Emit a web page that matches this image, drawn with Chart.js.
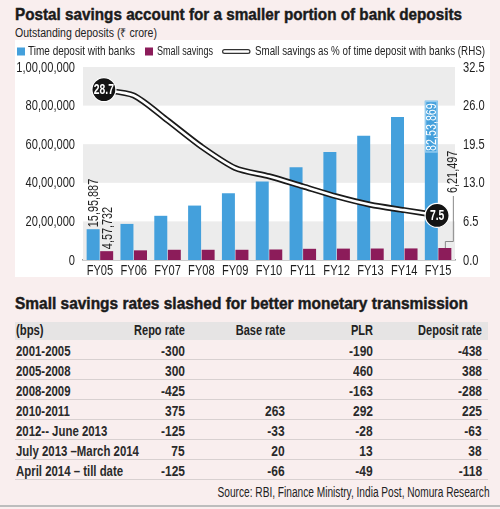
<!DOCTYPE html>
<html>
<head>
<meta charset="utf-8">
<script src="https://cdn.jsdelivr.net/npm/chart.js@4.4.1/dist/chart.umd.min.js"></script>
<style>
  html, body { margin: 0; padding: 0; }
  body { width: 500px; height: 509px; background: #f9eeee; position: relative; overflow: hidden;
         font-family: 'Liberation Sans', Arial, sans-serif; color: #222; }
  .t { position: absolute; white-space: nowrap; line-height: 1; display: inline-block; }
  .L { transform-origin: left center; }
  .R { transform-origin: right center; }
  .title { font-weight: bold; font-size: 17px; color: #1b1b1b; -webkit-text-stroke: 0.45px #1b1b1b; }
  #box { position: absolute; left: 15px; top: 40px; width: 475px; height: 237px; background: #fff; }
  #hdr { position: absolute; left: 15px; top: 322px; width: 473px; height: 18px; background: #e6e4e4; }
  .sep { position: absolute; left: 15px; width: 473px; height: 1px; background: #d8d0d0; }
  .th { font-weight: bold; color: #222; }
  .td { font-weight: bold; color: #2a2a2a; }
  #bot { position: absolute; left: 0; right: 0; top: 505px; height: 2px; background: #bdbdbd; }
</style>
</head>
<body>
<div id="box"><canvas id="myChart" width="475" height="237"></canvas></div>
<div id="hdr"></div>
<div id="bot"></div>
<script>
// chart data
var years = ['FY05', 'FY06', 'FY07', 'FY08', 'FY09', 'FY10', 'FY11', 'FY12', 'FY13', 'FY14', 'FY15'];
var timeDeposits = [1595887, 1870000, 2290000, 2820000, 3460000, 4070000, 4810000, 5590000, 6440000, 7410000, 8253869];
var smallSavings = [457732, 500000, 530000, 530000, 530000, 545000, 580000, 590000, 595000, 600000, 621497];
var sharePct = [28.7, 27.7, 23.5, 19.1, 15.5, 14.1, 12.4, 10.7, 9.3, 8.4, 7.5];
var leftMax = 10000000, leftStep = 2000000;
var rightMax = 32.5, rightStep = 6.5;

// table data
var tblHead = ['(bps)', 'Repo rate', 'Base rate', 'PLR', 'Deposit rate'];
var periods = ['2001-2005', '2005-2008', '2008-2009', '2010-2011', '2012-- June 2013', 'July 2013 \u2013March 2014', 'April 2014 \u2013 till date'];
var repoRate = ['-300', '300', '-425', '375', '-125', '75', '-125'];
var baseRate = ['', '', '', '263', '-33', '20', '-66'];
var plrRate = ['-190', '460', '-163', '292', '-28', '13', '-49'];
var depositRate = ['-438', '388', '-288', '225', '-63', '38', '-118'];

var FONT = "'Liberation Sans', Arial, sans-serif";
var BLUE = '#44a0dc', PURPLE = '#8c1c5a';
var SX = 0.74;   // squeeze to look like the narrow news font

function inr(v) {
  var s = Math.round(v).toString();
  if (s.length <= 3) return s;
  var rest = s.slice(0, -3).replace(/\B(?=(\d{2})+(?!\d))/g, ',');
  return rest + ',' + s.slice(-3);
}

// page texts: put by baseline, squeeze to a width (fit > 2) or by a factor
function addText(txt, cls, x, baseline, size, align, fit) {
  var el = document.createElement('div');
  el.className = 't ' + cls + ' ' + align;
  el.style.fontSize = size + 'px';
  el.textContent = txt;
  document.body.appendChild(el);
  el.style.top = (baseline - 0.8465 * size) + 'px';
  if (align === 'L') el.style.left = x + 'px';
  else el.style.right = (500 - x) + 'px';
  var w = el.getBoundingClientRect().width;
  var s = fit > 2 ? fit / w : fit;
  el.style.transform = 'scaleX(' + s + ')';
  return el;
}

addText('Postal savings account for a smaller portion of bank deposits', 'title', 15, 20.3, 17, 'L', 447);
addText('Outstanding deposits (\u20b9 crore)', '', 15, 37, 12, 'L', 142);
addText('Small savings rates slashed for better monetary transmission', 'title', 15, 309, 16.5, 'L', 453);
addText('Source: RBI, Finance Ministry, India Post, Nomura Research', '', 490, 497, 14, 'R', 272);

// table
var colRight = [0, 185, 285, 373, 482];
tblHead.forEach(function(h, i) {
  if (i === 0) addText(h, 'th', 16, 335, 14.5, 'L', 0.78);
  else addText(h, 'th', colRight[i], 335, 14.5, 'R', 0.76);
});
periods.forEach(function(p, r) {
  var base = 355.5 + 20 * r;
  addText(p, 'td', 16, base, 15, 'L', 0.76);
  [repoRate, baseRate, plrRate, depositRate].forEach(function(col, c) {
    if (col[r] !== '') addText(col[r], 'td', colRight[c + 1], base, 15, 'R', 0.8);
  });
  var sep = document.createElement('div');
  sep.className = 'sep';
  sep.style.top = (359 + 20 * r) + 'px';
  document.body.appendChild(sep);
});

function sText(ctx, txt, x, y, align, sx, rot) {
  ctx.save();
  ctx.translate(x, y);
  if (rot) ctx.rotate(rot);
  ctx.scale(sx, 1);
  ctx.textAlign = align;
  ctx.fillText(txt, 0, 0);
  ctx.restore();
}

var bands = {
  id: 'bands',
  beforeDatasetsDraw: function(chart) {
    var ctx = chart.ctx, y = chart.scales.y, a = chart.chartArea;
    ctx.save();
    ctx.fillStyle = '#ececec';
    for (var v = 0; v < leftMax; v += leftStep * 2) {
      var top = y.getPixelForValue(v + leftStep), bot = y.getPixelForValue(v);
      ctx.fillRect(a.left, top, a.right - a.left, bot - top);
    }
    ctx.restore();
  }
};

// tick labels drawn squeezed at the scale positions
var tickText = {
  id: 'tickText',
  afterDraw: function(chart) {
    var ctx = chart.ctx, a = chart.chartArea;
    var x = chart.scales.x, y = chart.scales.y, y2 = chart.scales.y2;
    ctx.save();
    ctx.fillStyle = '#1e1e1e';
    ctx.font = '15px ' + FONT;
    ctx.textBaseline = 'middle';
    y.ticks.forEach(function(t) {
      sText(ctx, inr(t.value), a.left - 8, y.getPixelForValue(t.value) + 0.5, 'right', SX);
    });
    y2.ticks.forEach(function(t) {
      sText(ctx, t.value.toFixed(1), a.right + 8, y2.getPixelForValue(t.value) + 0.5, 'left', SX);
    });
    ctx.textBaseline = 'alphabetic';
    years.forEach(function(lbl, i) {
      sText(ctx, lbl, x.getPixelForValue(i), a.bottom + 15, 'center', SX);
    });
    ctx.restore();
  }
};

var legendWidths = [107, 56, 230];
var legendPlug = {
  id: 'legendPlug',
  afterDraw: function(chart) {
    var ctx = chart.ctx, ds = chart.data.datasets;
    var base = 15;
    ctx.save();
    ctx.font = '12.5px ' + FONT;
    function label(i, x) {
      ctx.fillStyle = '#222';
      sText(ctx, ds[i].label, x, base, 'left', legendWidths[i] / ctx.measureText(ds[i].label).width);
      return x + legendWidths[i];
    }
    var x = 2;
    ctx.fillStyle = BLUE;
    ctx.fillRect(x, base - 7.5, 8, 8);
    x = label(0, x + 11) + 10;
    ctx.fillStyle = PURPLE;
    ctx.fillRect(x, base - 7.5, 8, 8);
    x = label(1, x + 12) + 9;
    // double line icon
    var yc = base - 3.5;
    ctx.lineCap = 'round';
    ctx.strokeStyle = '#333';
    ctx.lineWidth = 5;
    ctx.beginPath(); ctx.moveTo(x + 2.5, yc); ctx.lineTo(x + 26, yc); ctx.stroke();
    ctx.strokeStyle = '#fff';
    ctx.lineWidth = 2.4;
    ctx.beginPath(); ctx.moveTo(x + 2.5, yc); ctx.lineTo(x + 26, yc); ctx.stroke();
    label(2, x + 33);
    ctx.restore();
  }
};

var labelsPlug = {
  id: 'labelsPlug',
  afterDatasetsDraw: function(chart) {
    var ctx = chart.ctx;
    var blue = chart.getDatasetMeta(0).data, purple = chart.getDatasetMeta(1).data;
    var line = chart.getDatasetMeta(3).data;
    var n = years.length - 1;
    var up = -Math.PI / 2;
    ctx.save();
    ctx.font = '14.5px ' + FONT;
    ctx.textBaseline = 'middle';
    ctx.fillStyle = '#222';
    // first year labels above bars
    sText(ctx, inr(timeDeposits[0]), blue[0].x + 1, blue[0].y - 2, 'left', 0.75, up);
    sText(ctx, inr(smallSavings[0]), purple[0].x + 1, purple[0].y - 2, 'left', 0.75, up);
    // last blue bar label inside a framed box
    var b = blue[n];
    ctx.fillStyle = '#93cbef';
    ctx.fillRect(b.x - b.width / 2, b.y, b.width, 52);
    ctx.fillStyle = BLUE;
    ctx.fillRect(b.x - b.width / 2 + 1.5, b.y + 1.5, b.width - 3, 49);
    ctx.fillStyle = '#fff';
    sText(ctx, inr(timeDeposits[n]), b.x + 1, b.y + 2.5, 'right', 0.74, up);
    // last purple label with leader
    var p = purple[n];
    var lx = p.x + p.width / 2 + 1.5;
    ctx.fillStyle = '#222';
    sText(ctx, inr(smallSavings[n]), lx, p.y - 55, 'left', 0.75, up);
    ctx.strokeStyle = '#888';
    ctx.lineWidth = 1;
    ctx.beginPath();
    ctx.moveTo(lx + 0.5, p.y - 52);
    ctx.lineTo(lx + 0.5, p.y - 6.5);
    ctx.lineTo(p.x + 0.5, p.y - 6.5);
    ctx.lineTo(p.x + 0.5, p.y);
    ctx.stroke();
    // circled values at both ends of the line
    [[0, 4], [n, -1]].forEach(function(it) {
      var pt = line[it[0]], cx = pt.x + it[1];
      ctx.beginPath();
      ctx.arc(cx, pt.y, 12, 0, Math.PI * 2);
      ctx.fillStyle = '#141414';
      ctx.fill();
      ctx.strokeStyle = '#fff';
      ctx.lineWidth = 1.2;
      ctx.stroke();
      ctx.fillStyle = '#fff';
      ctx.font = 'bold 14px ' + FONT;
      sText(ctx, sharePct[it[0]].toFixed(1), cx, pt.y + 1, 'center', 0.74);
    });
    ctx.restore();
  }
};

var ctx = document.getElementById('myChart');
var myChart = new Chart(ctx, {
  data: {
    labels: years,
    datasets: [
      { type: 'bar', label: 'Time deposit with banks', data: timeDeposits, backgroundColor: BLUE, yAxisID: 'y', order: 3,
        categoryPercentage: 0.8, barPercentage: 0.96 },
      { type: 'bar', label: 'Small savings', data: smallSavings, backgroundColor: PURPLE, yAxisID: 'y', order: 3,
        categoryPercentage: 0.8, barPercentage: 0.96 },
      { type: 'line', label: 'Small savings as % of time deposit with banks (RHS)', data: sharePct, yAxisID: 'y2', order: 2,
        borderColor: '#1a1a1a', borderWidth: 6, pointRadius: 0, tension: 0.25 },
      { type: 'line', label: 'inner', data: sharePct, yAxisID: 'y2', order: 1,
        borderColor: '#ffffff', borderWidth: 2.6, pointRadius: 0, tension: 0.25 }
    ]
  },
  options: {
    responsive: false,
    animation: false,
    layout: { padding: { top: 27, left: 0, right: 0, bottom: 0 } },
    plugins: { legend: { display: false }, tooltip: { enabled: false } },
    scales: {
      x: {
        grid: { display: false },
        border: { display: true, color: '#9a9a9a', width: 1.5 },
        ticks: { display: false },
        afterFit: function(s) { s.height = 17; }
      },
      y: {
        position: 'left', min: 0, max: leftMax,
        grid: { display: false }, border: { display: false },
        ticks: { display: false, stepSize: leftStep },
        afterFit: function(s) { s.width = 68; }
      },
      y2: {
        position: 'right', min: 0, max: rightMax,
        grid: { display: false }, border: { display: false },
        ticks: { display: false, stepSize: rightStep },
        afterFit: function(s) { s.width = 35; }
      }
    }
  },
  plugins: [bands, tickText, legendPlug, labelsPlug]
});
</script>
</body>
</html>
